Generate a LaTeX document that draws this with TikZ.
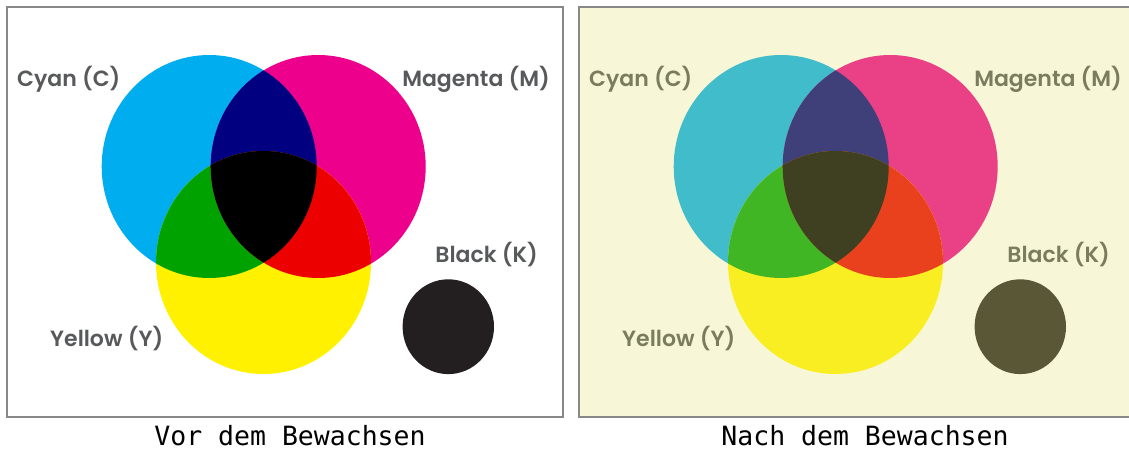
\documentclass[tikz,border=0pt]{standalone}
\usepackage{fontspec}
\newfontfamily\lab{Poppins SemiBold}
\newfontfamily\capfont{DejaVu Sans Mono}
\definecolor{framegray}{HTML}{888888}
% left palette
\definecolor{lC}{HTML}{00AEEF}
\definecolor{lM}{HTML}{EC008C}
\definecolor{lY}{HTML}{FFF100}
\definecolor{lCM}{HTML}{000080}
\definecolor{lCY}{HTML}{00A200}
\definecolor{lMY}{HTML}{EC0000}
\definecolor{lCMY}{HTML}{000000}
\definecolor{lK}{HTML}{231F20}
\definecolor{lT}{HTML}{58595B}
% right palette
\definecolor{rBG}{HTML}{F7F7D7}
\definecolor{rC}{HTML}{40BCCB}
\definecolor{rM}{HTML}{E94086}
\definecolor{rY}{HTML}{F9EE22}
\definecolor{rCM}{HTML}{3F3F7A}
\definecolor{rCY}{HTML}{41B624}
\definecolor{rMY}{HTML}{E9411E}
\definecolor{rCMY}{HTML}{3F3F21}
\definecolor{rK}{HTML}{5A5737}
\definecolor{rT}{HTML}{7B7B5F}
\def\circC{(209.2,166.5) ellipse [x radius=107.5, y radius=111.5]}
\def\circM{(318.2,166.5) ellipse [x radius=107.5, y radius=111.5]}
\def\circY{(263.5,262.5) ellipse [x radius=107.5, y radius=111.5]}
\newcommand{\drawvenn}[8]{%
  \fill[#1] \circC;
  \fill[#2] \circM;
  \fill[#3] \circY;
  \begin{scope}\clip \circC; \fill[#4] \circM; \end{scope}
  \begin{scope}\clip \circC; \fill[#5] \circY; \end{scope}
  \begin{scope}\clip \circM; \fill[#6] \circY; \end{scope}
  \begin{scope}\clip \circC; \clip \circM; \fill[#7] \circY; \end{scope}
  \fill[#8] (448.3,326.7) ellipse [x radius=45.7, y radius=47.4];
}
\begin{document}
\begin{tikzpicture}[x=1pt,y=-1pt,
  lbl/.style={font=\lab\fontsize{22}{22}\selectfont, inner sep=0pt},
  captxt/.style={font=\capfont\fontsize{26.5}{26.5}\selectfont, inner sep=0pt, anchor=base},
  panel/.style={draw=framegray, line width=1.6pt}]
\useasboundingbox (0,0) rectangle (1129,453);
% left panel
\fill[white] (7,7) rectangle (563,417);
\drawvenn{lC}{lM}{lY}{lCM}{lCY}{lMY}{lCMY}{lK}
\draw[panel] (7,7) rectangle (563,417);
\node[lbl, text=lT, anchor=base west] (lc) at (17,86.5) {Cyan (C)};
\node[lbl, text=lT, anchor=base east] (lm) at (550,86.5) {Magenta (M)};
\node[lbl, text=lT, anchor=base east] (lk) at (538,262.5) {Black (K)};
\node[lbl, text=lT, anchor=base west] (ly) at (50,346) {Yellow (Y)};
\node[captxt] (capL) at (290,445) {Vor dem Bewachsen};
% right panel
\fill[rBG] (579,7) rectangle (1135,417);
\begin{scope}[xshift=572pt]
\drawvenn{rC}{rM}{rY}{rCM}{rCY}{rMY}{rCMY}{rK}
\end{scope}
\draw[panel] (579,7) rectangle (1135,417);
\node[lbl, text=rT, anchor=base west] (rc) at (589,86.5) {Cyan (C)};
\node[lbl, text=rT, anchor=base east] (rm) at (1122,86.5) {Magenta (M)};
\node[lbl, text=rT, anchor=base east] (rk) at (1110,262.5) {Black (K)};
\node[lbl, text=rT, anchor=base west] (ry) at (622,346) {Yellow (Y)};
\node[captxt] (capR) at (865,445) {Nach dem Bewachsen};
\end{tikzpicture}
\end{document}
